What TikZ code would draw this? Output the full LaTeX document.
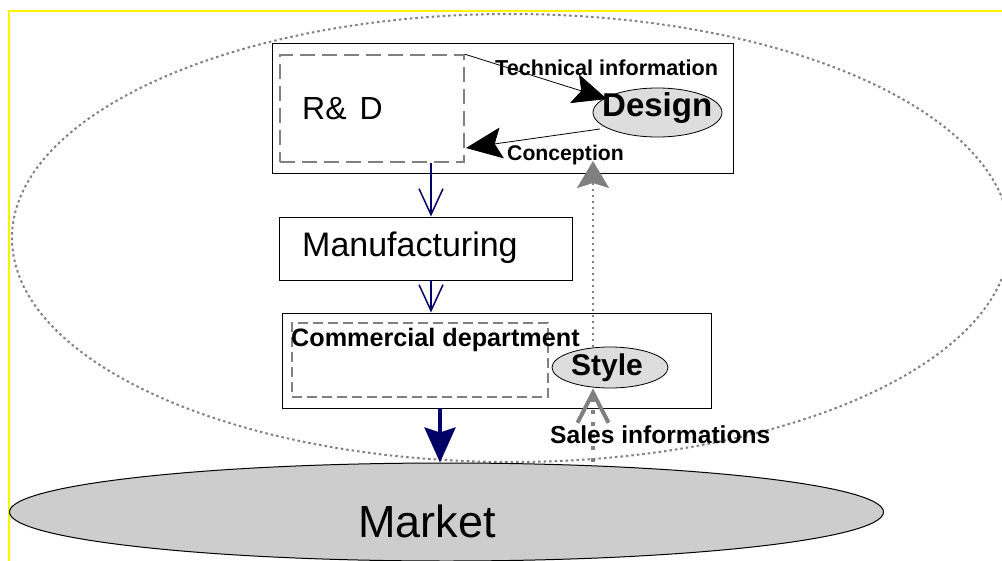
\documentclass[tikz,border=0pt]{standalone}
\usepackage{fontspec}
\setmainfont{Liberation Sans}
\usetikzlibrary{arrows.meta,shapes.geometric}
\definecolor{navy}{RGB}{0,0,102}
\definecolor{midgray}{RGB}{128,128,128}
\definecolor{lightfill}{RGB}{221,221,221}
\definecolor{hatchfill}{RGB}{205,205,205}
\begin{document}
\begin{tikzpicture}[x=1pt,y=-1pt,
  box/.style={rectangle, draw=black, line width=1pt, fill=white, inner sep=0pt},
  dbox/.style={rectangle, draw=midgray, line width=1.6pt, inner sep=0pt},
  blob/.style={ellipse, draw=black, line width=0.8pt, fill=lightfill, inner sep=0pt},
  lbl/.style={anchor=base west, inner sep=0pt},
  navyarrow/.style={draw=navy, line width=1.2pt, -{Straight Barb[length=26pt,width=24pt,line width=1.5pt]}},
  blackarrow/.style={draw=black, line width=0.8pt},
]
\useasboundingbox (0,0) rectangle (1002,560);
\clip (0,0) rectangle (1002,560);

% yellow frame (cut off at the right and bottom)
\draw[yellow, line width=2.5pt] (9,600) -- (9,11) -- (1100,11);

% dotted enterprise ellipse
\node[ellipse, draw=midgray, line width=2pt, dash pattern=on 2.5pt off 3pt,
      minimum width=998pt, minimum height=448pt, inner sep=0pt] (scope) at (511,238) {};

% boxes
\node[box, minimum width=461pt, minimum height=130pt] (topbox) at (502.5,108) {};
\node[dbox, dash pattern=on 15pt off 7pt, minimum width=184pt, minimum height=107pt] (rd) at (372,108.5) {};
\node[box, minimum width=293pt, minimum height=63pt] (manuf) at (425.5,248.5) {};
\node[box, minimum width=429pt, minimum height=95pt] (comm) at (496.5,360.5) {};
\node[dbox, line width=1.5pt, dash pattern=on 10pt off 5pt, minimum width=256pt, minimum height=74pt] (cdash) at (420,360) {};

% ellipses
\node[blob, minimum width=129pt, minimum height=49pt] (design) at (657.5,112.5) {};
\node[blob, minimum width=116pt, minimum height=41pt] (style) at (610,367.5) {};

% market
\node[ellipse, draw=black, line width=1pt, fill=hatchfill, minimum width=874pt, minimum height=98pt, inner sep=0pt] (market) at (446.5,512) {};

% texts
\node[lbl, font=\fontsize{32}{38}\selectfont] (rdt) at (302,119) {R\&\hspace{13pt}D};
\node[lbl, font=\fontsize{34}{40}\selectfont] (mft) at (302,256) {Manufacturing};
\node[lbl, font=\fontsize{45}{54}\selectfont] (mkt) at (358,537) {Market};

% technical information / conception arrows
\coordinate (techtip) at (607,99);
\coordinate (concs) at (600,129);
\coordinate (conctip) at (466,148);
\draw[blackarrow, -{Stealth[length=34pt,width=30pt,inset=7pt]}] (rd.north east) -- (techtip);
\draw[blackarrow, -{Stealth[length=36pt,width=31pt,inset=7pt]}] (concs) -- (conctip);

\node[lbl, font=\bfseries\fontsize{21.6}{25}\selectfont] (techt) at (495,75) {Technical information};
\node[lbl, font=\bfseries\fontsize{21.2}{25}\selectfont] (conct) at (507,160) {Conception};
\node[lbl, font=\bfseries\fontsize{33}{38}\selectfont] (dest) at (602,116.5) {Design};
\node[lbl, font=\bfseries\fontsize{25.2}{29}\selectfont] (comt) at (291,346) {Commercial department};
\node[lbl, font=\bfseries\fontsize{30}{36}\selectfont] (stt) at (571,375) {Style};

% navy flow arrows
\coordinate (a1) at (431,162.5);
\coordinate (a2) at (431,280);
\coordinate (a3) at (440,408);
\draw[navyarrow] (a1) -- (a1 |- manuf.north);
\draw[navyarrow] (a2) -- (a2 |- comm.north);
\draw[draw=navy, line width=4pt, -{Stealth[length=35pt,width=31pt,inset=5pt]}] (a3) -- (a3 |- market.north);

% gray feedback arrows
\coordinate (s0) at (593,462);
\coordinate (u0) at (593,347);
\coordinate (u1) at (593,161);
\draw[draw=midgray, line width=4.5pt, dash pattern=on 4pt off 8pt,
      -{Straight Barb[length=30pt,width=31pt,line width=4pt]}] (s0) -- (s0 |- style.south);
\draw[draw=midgray, line width=2pt, dash pattern=on 2pt off 4pt,
      -{Stealth[length=27pt,width=32pt,inset=5pt]}] (u0) -- (u1);

\node[lbl, font=\bfseries\fontsize{24.6}{29}\selectfont] (salt) at (550,443) {Sales informations};
\end{tikzpicture}
\end{document}
